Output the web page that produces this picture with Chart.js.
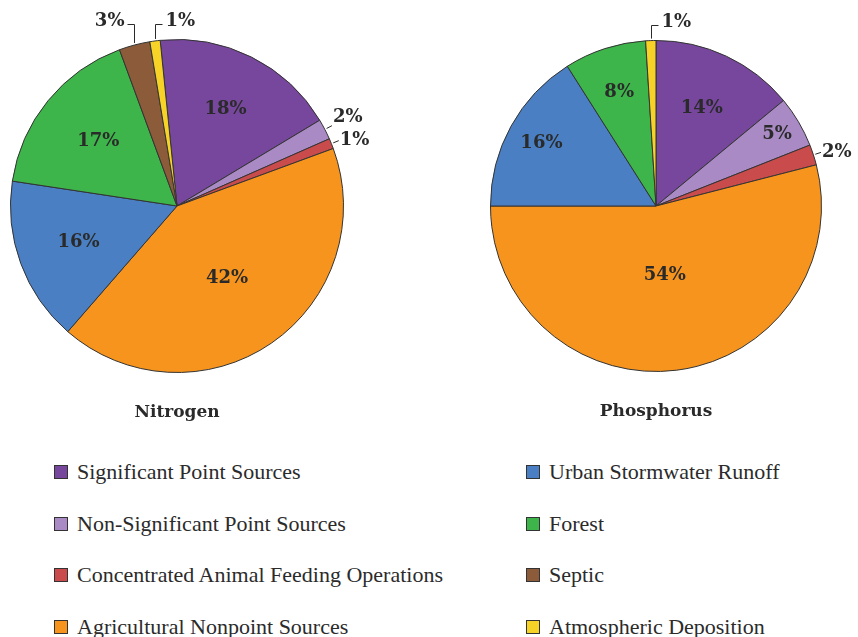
<!DOCTYPE html>
<html>
<head>
<meta charset="utf-8">
<script src="https://cdn.jsdelivr.net/npm/chart.js@4.4.0/dist/chart.umd.min.js"></script>
<style>
  body { margin: 0; background: #fff; width: 858px; height: 637px; position: relative; overflow: hidden; }
  .pie { position: absolute; top: 0; width: 429px; height: 440px; }
  #nitrogen-wrap { left: 0; }
  #phosphorus-wrap { left: 429px; }
  .legend { position: absolute; top: 450px; left: 0; width: 858px; }
  .legend-item { position: absolute; display: flex; align-items: center; height: 30px;
    font-family: "Liberation Serif", serif; font-size: 22px; color: #2b2b2b; white-space: nowrap; }
  .swatch { width: 12px; height: 12px; border: 1px solid #333; margin-right: 9px; }
</style>
</head>
<body>
<div class="pie" id="nitrogen-wrap"><canvas id="nitrogen"></canvas></div>
<div class="pie" id="phosphorus-wrap"><canvas id="phosphorus"></canvas></div>
<div class="legend" id="legend"></div>
<script>
'use strict';

const categories = [
  'Significant Point Sources',
  'Non-Significant Point Sources',
  'Concentrated Animal Feeding Operations',
  'Agricultural Nonpoint Sources',
  'Urban Stormwater Runoff',
  'Forest',
  'Septic',
  'Atmospheric Deposition'
];
const nitrogenValues = [18, 2, 1, 42, 16, 17, 3, 1];
const phosphorusValues = [14, 5, 2, 54, 16, 8, 0, 1];

const colors = ['#77479d', '#a98ac5', '#c94b4b', '#f7941d', '#4a80c3', '#3db54a', '#8b5b3a', '#f7d327'];

// how each slice gets its label: inside, small dash outside, or a bracket above
const nitrogenLabelKinds = ['in', 'outUp', 'out', 'in', 'in', 'in', 'bracketL', 'bracketR'];
const nitrogenLabelRadii = [0.65, 0, 0, 0.53, 0.63, 0.61, 0, 0];
const phosphorusLabelKinds = ['in', 'in', 'out', 'in', 'in', 'in', 'none', 'bracketR'];
const phosphorusLabelRadii = [0.65, 0.85, 0, 0.42, 0.79, 0.72, 0, 0];

const ink = '#2a2a2a';

const pieLabels = {
  id: 'pieLabels',
  afterDatasetsDraw(chart, args, opts) {
    const ctx = chart.ctx;
    const meta = chart.getDatasetMeta(0);
    const values = chart.data.datasets[0].data;
    ctx.save();
    ctx.fillStyle = ink;
    ctx.strokeStyle = ink;
    ctx.lineWidth = 1;
    ctx.font = 'bold 18px "DejaVu Serif"';
    meta.data.forEach(function(arc, i) {
      const v = values[i];
      const kind = opts.kinds[i];
      if (!v || kind === 'none') return;
      const p = arc.getProps(['x', 'y', 'startAngle', 'endAngle', 'outerRadius'], true);
      const mid = (p.startAngle + p.endAngle) / 2;
      const cos = Math.cos(mid), sin = Math.sin(mid);
      const text = v + '%';
      if (kind === 'in') {
        const r = p.outerRadius * opts.radii[i];
        ctx.textAlign = 'center';
        ctx.textBaseline = 'middle';
        ctx.fillText(text, p.x + cos * r, p.y + sin * r);
      } else if (kind === 'out' || kind === 'outUp') {
        const r0 = p.outerRadius + 2, r1 = p.outerRadius + 8;
        ctx.beginPath();
        ctx.moveTo(p.x + cos * r0, p.y + sin * r0);
        ctx.lineTo(p.x + cos * r1, p.y + sin * r1);
        ctx.stroke();
        ctx.textAlign = 'left';
        ctx.textBaseline = 'middle';
        ctx.fillText(text, p.x + cos * r1 + 1, p.y + sin * r1 + (kind === 'outUp' ? -8 : 0));
      } else {
        const dir = kind === 'bracketL' ? -1 : 1;
        const bx = Math.round(p.x + cos * p.outerRadius) + 0.5;
        const by = p.y + sin * p.outerRadius;
        const topY = Math.round(p.y - p.outerRadius - 16) + 0.5;
        ctx.beginPath();
        ctx.moveTo(bx, by - 2);
        ctx.lineTo(bx, topY);
        ctx.lineTo(bx + dir * 7, topY);
        ctx.stroke();
        ctx.textAlign = dir < 0 ? 'right' : 'left';
        ctx.textBaseline = 'middle';
        ctx.fillText(text, bx + dir * 10, topY - 3);
      }
    });
    const first = meta.data[0];
    ctx.font = 'bold 17px "DejaVu Serif"';
    ctx.textAlign = 'center';
    ctx.textBaseline = 'middle';
    ctx.fillText(opts.title, first.x, first.y + first.outerRadius + 40);
    ctx.restore();
  }
};

function makePie(id, values, rotation, padding, kinds, radii, title) {
  return new Chart(document.getElementById(id), {
    type: 'pie',
    data: {
      labels: categories,
      datasets: [{
        data: values,
        backgroundColor: colors,
        borderColor: '#333',
        borderWidth: 1
      }]
    },
    options: {
      responsive: true,
      maintainAspectRatio: false,
      animation: false,
      rotation: rotation,
      layout: { padding: padding },
      plugins: {
        legend: { display: false },
        tooltip: { enabled: false },
        pieLabels: { kinds: kinds, radii: radii, title: title }
      }
    },
    plugins: [pieLabels]
  });
}

makePie('nitrogen', nitrogenValues, -5.8,
  { left: 10, right: 85, top: 39, bottom: 67 },
  nitrogenLabelKinds, nitrogenLabelRadii, 'Nitrogen');
makePie('phosphorus', phosphorusValues, 0,
  { left: 61, right: 36, top: 40, bottom: 68 },
  phosphorusLabelKinds, phosphorusLabelRadii, 'Phosphorus');

// legend: two columns of four
var legend = document.getElementById('legend');
categories.forEach(function(name, i) {
  var item = document.createElement('div');
  item.className = 'legend-item';
  var col = Math.floor(i / 4), row = i % 4;
  item.style.left = (col === 0 ? 54 : 526) + 'px';
  item.style.top = (7 + row * 51.5) + 'px';
  var sw = document.createElement('div');
  sw.className = 'swatch';
  sw.style.background = colors[i];
  item.appendChild(sw);
  item.appendChild(document.createTextNode(name));
  legend.appendChild(item);
});
</script>
</body>
</html>
